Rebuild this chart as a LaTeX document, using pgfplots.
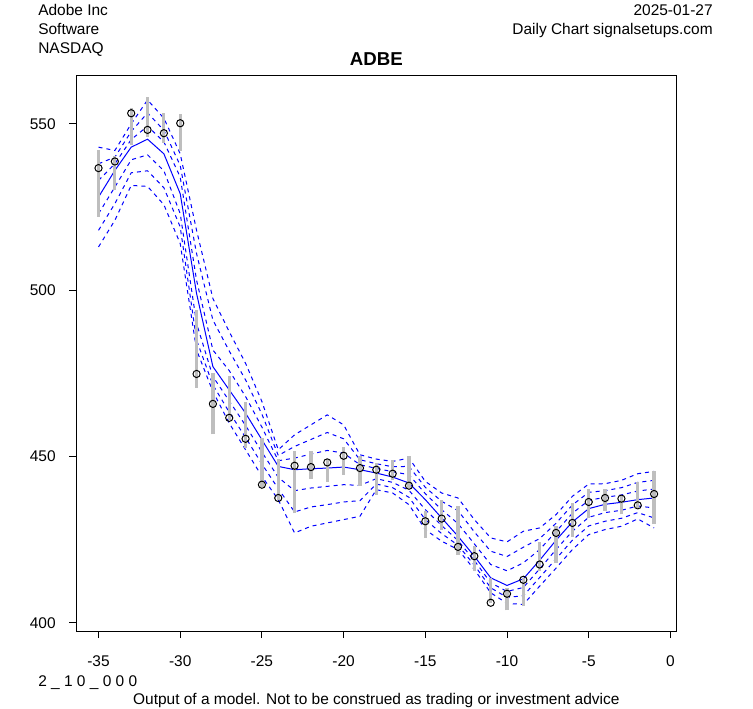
\documentclass[border=0pt]{standalone}
\usepackage{fontspec}
\setmainfont{Liberation Sans}
\usepackage{pgfplots}
\pgfplotsset{compat=1.18}
\usepackage{pgfplotstable}
\definecolor{bargray}{RGB}{190,190,190}
\definecolor{rblue}{RGB}{0,0,255}

\pgfplotstableread{
x lo hi close
-35 522.0 542.0 536.7
-34 530.2 540.4 538.7
-33 543.7 554.7 553.2
-32 546.2 558.2 548.2
-31 544.4 553.2 547.2
-30 541.9 552.9 550.2
-29 470.7 494.0 474.8
-28 456.6 475.1 465.8
-27 460.9 474.3 461.6
-26 452.5 466.3 455.3
-25 440.8 455.5 441.5
-24 437.0 449.2 437.5
-23 432.9 451.5 447.2
-22 443.2 451.5 446.8
-21 442.3 449.2 448.2
-20 444.5 452.7 450.2
-19 441.2 450.0 446.5
-18 438.5 448.0 446.0
-17 442.8 448.8 444.8
-16 440.5 450.2 441.2
-15 425.5 433.5 430.5
-14 427.8 436.8 431.3
-13 420.5 435.2 422.8
-12 415.5 423.0 420.0
-11 406.0 413.5 406.0
-10 403.7 410.4 408.7
-9 404.9 413.5 412.9
-8 415.5 424.2 417.5
-7 417.9 429.2 427.0
-6 425.8 436.1 430.0
-5 431.4 440.1 436.3
-4 433.6 440.1 437.5
-3 432.6 438.2 437.3
-2 434.5 442.3 435.3
-1 429.6 445.7 438.7
}\bars

\pgfplotstableread{
x l3 l2 l1 c u1 u2 u3
-35 513 518 523 528 533 538 543
-34 521 526 531 536 538 540 542
-33 531.5 535.3 539.2 543 545.3 547.7 550
-32 531.2 535.9 540.7 545.4 549.3 553.3 557.2
-31 525.7 530.8 535.9 541 544.6 548.1 551.7
-30 514 519 523 529 534 537.5 541
-29 482 485 490 499 503 511 518
-28 469.5 471.5 474 477 482 491 497.5
-27 460 463.3 466.7 470 475.8 481.7 487.5
-26 452 455.7 459.3 463 468 473 478
-25 444 447.7 451.3 455 458.8 462.7 466.5
-24 437 440.3 443.7 447 448.7 450.3 452
-23 427 433.3 439.7 446 449.5 453 456.5
-22 429 434.8 440.5 446.3 450.7 455.1 459.5
-21 430 435.5 441 446.5 451.8 457.2 462.5
-20 431 436.3 441.5 446.8 451 455.3 459.5
-19 432 436.7 441.3 446 447.5 449 450.5
-18 440 441.7 443.3 445 446.4 447.8 449.2
-17 439 440.6 442.2 443.8 445.4 446.9 448.5
-16 435.5 437.7 439.8 442 444.5 447 449.5
-15 428 431 434 437 438.8 440.7 442.5
-14 424.5 426.8 429.2 431.5 434 436.5 439
-13 422 423.3 424.7 426 429.8 433.7 437.5
-12 416 417.3 418.7 420 423.7 427.3 431
-11 409 410.5 412 413.5 417.5 421.5 425.5
-10 405.8 407.6 409.4 411.2 415.6 419.9 424.3
-9 405.5 408.1 410.6 413.2 418 422.7 427.5
-8 411 413.6 416.2 418.8 422 425.3 428.5
-7 416.4 419.2 422 424.8 427.4 429.9 432.5
-6 422 424.8 427.5 430.3 432.9 435.4 438
-5 426.5 429.1 431.7 434.3 436.8 439.2 441.7
-4 428 430.5 433.1 435.6 437.7 439.7 441.8
-3 429 431.4 433.8 436.2 438.4 440.6 442.8
-2 431.2 433.1 435.1 437 439.6 442.2 444.8
-1 428.5 431.5 434.5 437.5 440.2 442.8 445.5
}\model

\newcommand{\txtfont}{\fontsize{11.6pt}{14pt}\selectfont}

\begin{document}
\begin{tikzpicture}
\path[use as bounding box] (-57.225pt,-57.75pt) rectangle (507.525pt,473.25pt);
\begin{axis}[
  at={(0pt,0pt)}, anchor=south west,
  scale only axis, width=450pt, height=416.25pt,
  xmin=-36.36, xmax=0.36, ymin=397.5, ymax=564.4,
  axis line style={line width=0.75pt, black},
  xtick={-35,-30,-25,-20,-15,-10,-5,0},
  xticklabels={-35,-30,-25,-20,-15,-10,-5,0},
  ytick={400,450,500,550},
  yticklabels={400,450,500,550},
  xtick pos=left, ytick pos=left,
  tick align=outside, major tick length=5.25pt,
  tick style={black, line width=0.75pt},
  tick label style={font=\txtfont},
  xticklabel style={anchor=base, inner sep=0pt, yshift=-21.4pt},
  yticklabel style={anchor=east, inner sep=0pt, xshift=-10pt},
  clip=true,
]
\pgfplotsinvokeforeach{l3,l2,l1,u1,u2,u3}{
  \addplot[rblue, line width=0.75pt, dash pattern=on 3pt off 3pt, mark=none] table[x=x, y=#1] {\model};
}
\addplot[rblue, line width=0.75pt, mark=none] table[x=x, y=c] {\model};
\addplot[draw=none, mark=none, forget plot,
  error bars/.cd, y dir=plus, y explicit,
  error mark=none,
  error bar style={line width=2.4pt, draw=bargray}]
  table[x=x, y=lo, y error expr=\thisrow{hi}-\thisrow{lo}] {\bars};
\addplot[only marks, mark=o, mark size=2.7pt, black, mark options={line width=0.75pt}] table[x=x, y=close] {\bars};
\end{axis}
\node[anchor=base west, inner sep=0pt, font=\txtfont] at (-28.7pt,461.25pt) {Adobe Inc};
\node[anchor=base west, inner sep=0pt, font=\txtfont] at (-28.7pt,447pt) {Software};
\node[anchor=base west, inner sep=0pt, font=\txtfont] at (-28.7pt,432.75pt) {NASDAQ};
\node[anchor=base east, inner sep=0pt, font=\txtfont] at (477.5pt,461.25pt) {2025-01-27};
\node[anchor=base east, inner sep=0pt, font=\txtfont] at (477.5pt,447pt) {Daily Chart signalsetups.com};
\node[anchor=base, inner sep=0pt, font=\fontsize{14pt}{17pt}\selectfont\bfseries] at (225pt,423.75pt) {ADBE};
\node[anchor=base west, inner sep=0pt, font=\txtfont] at (-28.7pt,-41.6pt) {2 \_ 1 0 \_ 0 0 0};
\node[anchor=base, inner sep=0pt, font=\txtfont] at (225pt,-54.75pt) {Output of a model. Not to be construed as trading or investment advice};
\end{tikzpicture}
\end{document}
